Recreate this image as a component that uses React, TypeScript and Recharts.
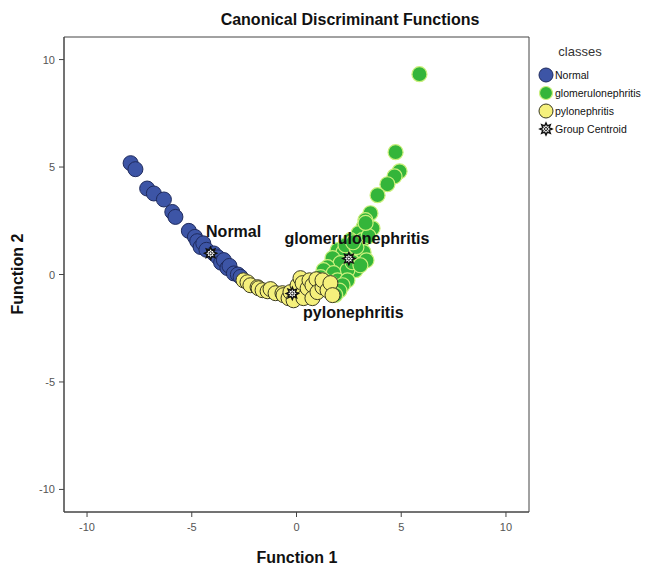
import React from "react";
import { ScatterChart, Scatter, XAxis, YAxis, ReferenceArea } from "recharts";

const normalX = [-7.92, -7.69, -7.13, -6.81, -6.33, -5.93, -5.78, -5.14, -4.85, -4.74, -4.58, -4.45, -4.3, -3.95, -3.75, -3.6, -3.47, -3.3, -3.2, -2.99, -2.8, -2.67];
const normalY = [5.18, 4.9, 4.0, 3.77, 3.49, 2.91, 2.68, 2.03, 1.75, 1.55, 1.28, 1.45, 1.15, 0.98, 0.8, 0.55, 0.67, 0.3, 0.4, 0.05, 0.0, -0.11];

const glomX = [5.87, 4.73, 4.92, 4.68, 4.34, 3.87, 3.53, 3.29, 3.2, 3.63, 2.96, 3.15, 2.58, 1.96, 2.24, 2.82, 3.2, 1.72, 2.1, 2.82, 2.43, 1.48, 1.29, 1.77, 1.15, 1.96, 2.43, 1.62, 2.2, 1.29, 2.67, 2.34, 3.44, 2.86, 3.34, 3.05, 0.95, 3.3, 2.7, 2.05, 1.85];
const glomY = [9.32, 5.69, 4.8, 4.57, 4.2, 3.69, 2.85, 2.53, 2.2, 2.15, 1.92, 1.6, 1.6, 1.13, 1.04, 0.9, 1.04, 0.76, 0.53, 0.2, 0.2, 0.34, 0.2, 0.06, -0.12, -0.27, -0.27, -0.4, -0.5, -0.27, 0.57, 1.36, 1.78, 1.27, 0.66, 0.43, -0.4, 2.4, 1.5, -0.75, -0.95];

const pyloX = [-2.53, -2.34, -2.2, -1.86, -1.81, -1.62, -1.38, -1.24, -1.0, -0.67, -0.62, -0.38, -0.29, -0.14, 0.05, 0.19, 0.29, 0.33, 0.53, 0.62, 0.76, 0.76, 0.95, 1.0, 1.24, 1.24, 1.48, 1.62, 1.72];
const pyloY = [-0.27, -0.36, -0.5, -0.59, -0.64, -0.73, -0.78, -0.68, -0.87, -0.87, -0.96, -1.1, -0.82, -1.2, -0.5, -0.17, -0.4, -1.1, -0.64, -0.27, -0.5, -1.1, -0.22, -0.82, -0.59, -0.27, -0.73, -0.4, -0.96];

const centroidNames = ["Normal", "glomerulonephritis", "pylonephritis"];
const centroidX = [-4.1, 2.5, -0.2];
const centroidY = [0.99, 0.74, -0.88];

const axisTicks = [-10, -5, 0, 5, 10];

const normalData = normalX.map((x, i) => ({ x, y: normalY[i] }));
const glomData = glomX.map((x, i) => ({ x, y: glomY[i] }));
const pyloData = pyloX.map((x, i) => ({ x, y: pyloY[i] }));
const centroidData = centroidNames.map((name, i) => ({ name, x: centroidX[i], y: centroidY[i] }));

const FONT = "Arial, 'Liberation Sans', sans-serif";
const BLUE = "#3D55A6";
const BLUE_S = "#1F2B5E";
const GREEN = "#34B53A";
const GREEN_S = "#CBF07C";
const YELLOW = "#F5F07C";
const YELLOW_S = "#3A3A22";

const labelOffset: Record<string, [number, number]> = {
  Normal: [23, -22],
  glomerulonephritis: [8, -20],
  pylonephritis: [61, 19],
};

function starPath(cx: number, cy: number, ro: number, ri: number, n: number) {
  const pts: string[] = [];
  for (let k = 0; k < n * 2; k++) {
    const r = k % 2 === 0 ? ro : ri;
    const a = (Math.PI * k) / n - Math.PI / 2;
    pts.push(`${(cx + r * Math.cos(a)).toFixed(2)},${(cy + r * Math.sin(a)).toFixed(2)}`);
  }
  return "M" + pts.join("L") + "Z";
}

const Star = ({ cx, cy }: { cx: number; cy: number }) => (
  <g>
    <path d={starPath(cx, cy, 6, 3.4, 8)} fill="#fff" stroke="#111" strokeWidth={1.5} />
    <circle cx={cx} cy={cy} r={1.5} fill="#fff" stroke="#111" strokeWidth={1} />
  </g>
);

const dot = (fill: string, stroke: string, sw: number) => (props: any) => (
  <circle cx={props.cx} cy={props.cy} r={7.5} fill={fill} stroke={stroke} strokeWidth={sw} />
);

const centroidShape = (props: any) => {
  const name = props.payload?.name as string;
  const off = labelOffset[name] || [0, 0];
  return (
    <g>
      <Star cx={props.cx} cy={props.cy} />
      <text
        x={props.cx + off[0]}
        y={props.cy + off[1]}
        textAnchor="middle"
        dominantBaseline="central"
        fontFamily={FONT}
        fontWeight="bold"
        fontSize={16}
        fill="#111"
      >
        {name}
      </text>
    </g>
  );
};

const XTick = (props: any) => (
  <text x={props.x} y={props.y + 12} textAnchor="middle" fontFamily={FONT} fontSize={11} fill="#555">
    {props.payload.value}
  </text>
);

const YTick = (props: any) => (
  <text x={props.x - 2} y={props.y + 4} textAnchor="end" fontFamily={FONT} fontSize={11} fill="#555">
    {props.payload.value}
  </text>
);

export default function App() {
  const W = 646;
  const H = 559;
  return (
    <div style={{ position: "relative", width: W, height: H }}>
      <ScatterChart width={W} height={H} margin={{ top: 29, right: 125, left: 16, bottom: 25 }}>
        <XAxis
          type="number"
          dataKey="x"
          domain={[-11.1, 11.1]}
          ticks={axisTicks}
          allowDataOverflow
          height={30}
          tick={XTick}
          tickSize={5}
          axisLine={{ stroke: "#444" }}
          tickLine={{ stroke: "#444" }}
        />
        <YAxis
          type="number"
          dataKey="y"
          domain={[-11.05, 11.05]}
          ticks={axisTicks}
          allowDataOverflow
          width={40}
          tick={YTick}
          tickSize={5}
          axisLine={{ stroke: "#444" }}
          tickLine={{ stroke: "#444" }}
        />
        <ReferenceArea x1={-11.1} x2={11.1} y1={-11.05} y2={11.05} fill="none" stroke="#444" strokeWidth={1} />
        <Scatter data={normalData} isAnimationActive={false} shape={dot(BLUE, BLUE_S, 1)} />
        <Scatter data={glomData} isAnimationActive={false} shape={dot(GREEN, GREEN_S, 1.2)} />
        <Scatter data={pyloData} isAnimationActive={false} shape={dot(YELLOW, YELLOW_S, 1)} />
        <Scatter data={centroidData} isAnimationActive={false} shape={centroidShape} />
      </ScatterChart>
      <svg
        width={W}
        height={H}
        style={{ position: "absolute", left: 0, top: 0, pointerEvents: "none" }}
      >
        <text x={342} y={17} textAnchor="middle" fontFamily={FONT} fontWeight="bold" fontSize={16} fill="#111">
          Canonical Discriminant Functions
        </text>
        <text x={289} y={555} textAnchor="middle" fontFamily={FONT} fontWeight="bold" fontSize={16} fill="#111">
          Function 1
        </text>
        <text
          x={0}
          y={0}
          transform="translate(15,266) rotate(-90)"
          textAnchor="middle"
          fontFamily={FONT}
          fontWeight="bold"
          fontSize={16}
          fill="#111"
        >
          Function 2
        </text>
        <text x={572} y={48} textAnchor="middle" fontFamily={FONT} fontSize={13} fill="#333">
          classes
        </text>
        <circle cx={538} cy={67} r={7} fill={BLUE} stroke={BLUE_S} strokeWidth={1} />
        <text x={547} y={71} fontFamily={FONT} fontSize={10.5} fill="#111">Normal</text>
        <circle cx={538} cy={85} r={6.5} fill={GREEN} stroke={GREEN_S} strokeWidth={1.2} />
        <text x={547} y={89} fontFamily={FONT} fontSize={10.5} fill="#111">glomerulonephritis</text>
        <circle cx={538} cy={103} r={7} fill={YELLOW} stroke={YELLOW_S} strokeWidth={1} />
        <text x={547} y={107} fontFamily={FONT} fontSize={10.5} fill="#111">pylonephritis</text>
        <Star cx={538} cy={121} />
        <text x={547} y={125} fontFamily={FONT} fontSize={10.5} fill="#111">Group Centroid</text>
      </svg>
    </div>
  );
}
